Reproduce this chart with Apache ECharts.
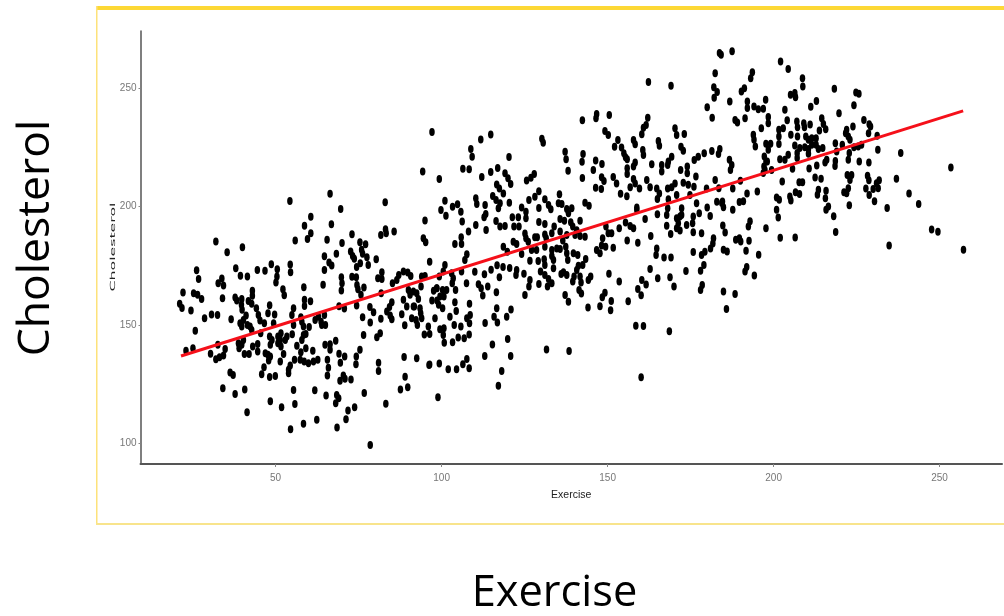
<!DOCTYPE html>
<html>
<head>
<meta charset="utf-8">
<style>html,body{margin:0;padding:0;background:#fff}#c{width:1004px;height:616px}</style>
<script src="https://cdn.jsdelivr.net/npm/echarts@6/dist/echarts.min.js"></script>
</head>
<body>
<div id="c"></div>
<script>
const xTicks = [50, 100, 150, 200, 250];
const yTicks = [100, 150, 200, 250];
const fitLine = [[21.5, 136.9], [257.1, 240.3]];
const pointsLow = [
[54.3,202.3],[66.4,205.4],[69.6,198.9],[83,201.8],[60.6,195.6],[58.7,191.9],[66.8,192.5],[83.1,190.4],
[55.9,185.6],[60.6,188.7],[59.6,186.3],[65.5,185.9],[70,184.6],[73,188.3],[81.7,188],[83.3,188.7],[85.7,189.4],[94.5,186.6],[95.2,184.9],[32,185.2],[35.4,180.7],[40,182.8],[75.4,184.9],[77.1,184],[75.9,181.7],[76.2,180],[72.6,181],[73.2,179.1],[73.7,177.9],[77.5,178.6],[80.3,177.7],[64.7,179],[68.3,180],[64.7,173.2],[66.1,176.3],[66.9,175.1],[75.5,176],[74.4,174.4],[77.9,175.3],[96.4,176.7],[48.7,175.6],[54.4,175.5],[54.5,172.2],[50.5,173.5],[44.5,173.2],[46.8,172.9],[38,173.9],[39.4,170.8],[41.5,170.4],[26.2,173.1],[26.8,169.4],[33.8,169.6],[32.7,167.6],[34.3,166.6],[50.4,170.4],[50.1,167.9],[64.3,167],[58.5,165.9],[52.2,165.1],[52.6,162.5],[43,164.4],[43,162.3],[22.1,163.7],[25.3,163.4],[26.5,162.7],[27.7,161],[34,161.3],[37.8,161.6],[38.3,160.3],[39.8,161],[41.8,160.1],[42.8,158.9],[39.7,158.5],[44.2,157.1],[39.9,156.4],[48.2,158.3],[21.1,159],[21.8,157.2],[24.5,156.1],[30.7,154.4],[32.5,154.2],[28.6,152.8],[36.6,152.4],[41.1,154],[44.8,154.2],[47.7,154.9],[49.7,154.4],[55.4,157],[54.9,154.2],[58.7,160.6],[58.7,158],[60.5,160],[69.1,157.9],[70.7,156.9],[69.8,170.1],[70,167.6],[69.8,164.5],[73,170.3],[74.3,170.1],[74.5,166.9],[74.8,165.1],[76.6,165.8],[75.7,162.7],[74.4,158.2],[78.4,157.6],[79.5,155.4],[76.2,153.3],[78.5,151],[81.7,152.6],[84.3,157.6],[85,159.6],[83.5,155.7],[84.5,154],[85,152.4],[88,154.5],[88.5,160.6],[89.5,157.8],[91.8,157.8],[88.9,149.9],[82,172.2],[80.8,169.7],[82,169.4],[81.8,163.4],[85.2,167.6],[86.5,169],[87.1,171.1],[88.5,172.5],[89.8,172.1],[90.7,170.7],[94,170.4],[95,170.7],[93.8,166.2],[90,164.8],[91.5,164.1],[92.5,163.4],[90.5,162.7],[93,160.9],[91.5,157.8],[93.5,157.1],[93.7,154.9],[91,152.8],[92.3,152.1],[94,152.8],[92.7,150],[98,152.8],[96,149.3],[94.8,146],[96.4,146.2],[97.6,164.4],[98.6,165.5],[97.1,160.3],[98.6,160.3],[99.1,158.5],[99.3,170.4],
[25.8,147.6],[39.3,150.7],[39.8,149.3],[41.5,150],[42.8,147.9],[45.3,151.9],[46.6,150.7],[45.5,146.5],[49.4,150.7],[55.4,150],[57.9,151.4],[57.6,153.3],[58.4,149.3],[60.1,149.1],[58.4,145.8],[59.1,146.2],[57.9,143.7],[61.9,152.1],[62.9,153.5],[63.7,151.4],[64.7,154.2],[65,150],[63.9,150],[55,146.1],[51.6,146.5],[50.7,145.1],[53.4,145.1],[48.2,145.1],[48.9,143.7],[51.4,143.7],[52.9,143.7],[50.7,142.3],[48.4,141.6],[51.6,140.9],[40.3,143.7],[38.8,142.3],[39.8,141.6],[39,140.2],[43.1,140.9],[44.6,142],[44.6,138.8],[40.6,137.7],[42,137.7],[32.6,141.6],[34.8,139.9],[23,139.1],[25.1,140.2],[30.4,137.9],[34.3,137.1],[33.1,136.4],[32,135.5],[46.9,138.1],[47.7,137.4],[48.4,136.7],[47.9,135],[52.4,137.7],[51.4,134.6],[56.4,141.2],[59.1,140.2],[57.6,138.5],[61.2,139.1],[55.7,135.3],[57.4,135.3],[58.6,134.6],[59.9,133.9],[61.4,134.6],[62.7,135.3],[54.4,132.9],[53.9,131.1],[53.9,129.6],[46.5,132.2],[45.8,129.2],[48.2,128],[49.9,128.5],[36.3,129.9],[37.2,128.9],[64.9,141.6],[66.4,141.9],[68.1,143.3],[66.4,139.5],[69.1,137.9],[70.8,136.7],[69.5,134.1],[65.6,135.3],[65.9,132],[65.6,128.7],[74.3,136.7],[74.2,133.4],[75.4,139.5],[76.5,145.8],[80.5,144.8],[81.5,146.5],[70.4,128.7],[69.4,126.5],[70.9,127.3],[72.7,127],[81,134.1],[81,130.6],[88.7,136.5],[92.5,136],[96.4,133.3],[99.3,133.7],[89,128.2],[89.8,123.7],[87.6,122.8],[98.9,119.5],[83.2,116.8],[76.7,121.3],[34.1,123.3],[37.8,120.9],[40.7,122.8],[55.4,122.6],[61.8,122.5],[65.2,120.2],[68.4,120.5],[69,119.1],[68.1,117],[48.4,117.8],[51.8,115.3],[55.8,116.7],[41.4,113.2],[73.8,115.3],[71.8,113.9],[71.2,110.2],[62.4,110],[58.4,108.3],[54.5,106],[68.5,106.7],[78.5,99.4],
[40.3,152.1],[42.3,149.3]
];
const pointsMid = [
[97.1,231.4],[94.3,214.7],[99.3,211.6],[108.8,224.2],[109.2,221],[111.8,228.2],[114.8,230.3],[106.4,215.9],[108.3,215.7],[112.1,212.4],[114.8,214.5],[116.9,216.2],[120.3,220.9],[130.2,228.6],[130.6,226.9],[119.1,214],[120,211.9],[120.8,209.5],[125.6,210.9],[126.9,212.1],[127.9,213.7],[116.6,209.3],[117.4,207.6],[118.6,205.5],[129.3,206.4],[128.1,204.1],[126.3,202.7],[101,202.4],[99.8,198.5],[101.3,196.1],[103.3,199.9],[104.8,200.9],[105.8,197.8],[106.2,193.6],[95,194.1],[110.3,203.4],[110.6,201],[113.1,200.6],[113.3,196.8],[112.8,195.4],[115.4,204.4],[116.4,202.7],[117.6,201.3],[117.1,199.2],[120.4,201.6],[116.4,193.9],[121.3,195.4],[123.1,195.4],[124.1,199.6],[125.4,197.8],[125.4,195],[129.3,199.3],[131.1,203],[132.2,200.6],[132.9,198.8],[135.2,201.3],[136.2,201],[135.5,205.1],[129.3,193.4],[131.1,192.6],[135.7,194.7],[137,194],[137.7,198.9],[139.2,199.2],[138.2,197.1],[138.9,193.3],[141.7,194],[139.5,191.5],[140.7,190],[143.2,201.6],[144.4,200.3],[110.3,192.2],[113.4,190.1],[108.1,189.4],[117.6,191.5],[119.1,191.7],[121.8,191.5],[123.3,191.5],[133.9,191.5],
[125.1,188.6],[125.4,186.6],[128.1,187],[128.8,187],[131.1,188.2],[131.5,186.6],[133.2,188.7],[135.7,189.4],[137.7,188],[136.5,185.6],[140.2,188],[141.7,187.5],[143.2,187.2],[126.1,185.1],[131.1,183],[121.6,185.1],[122.6,184.2],[118.6,183],[119.8,180.9],[124.1,179.9],[127.1,181.6],[128.6,181.6],[133.2,181.6],[134.7,182.3],[135.7,182],[137.4,183],[137.7,180.2],[139.7,180.2],[141,179.5],[126.6,177.1],[129.1,177],[130.9,177.7],[133.2,179.1],[133.7,177.4],[138,177.4],[131.1,175.3],[133.7,173.9],[129.8,172.5],[131.1,171.1],[141.2,175],[142.5,175.3],[143.4,177.8],[140.7,173.2],[136.7,172.2],[136,171.5],[137.7,171.1],[139.9,170.4],[141.7,170.4],[139.5,168.3],[142,167.9],[144.2,169],[144.9,170.4],[132.2,169.4],[133.2,167.6],[129.3,167.3],[126.6,169],[126.3,166.2],[131.9,166.2],[125.1,162.6],[141.4,164.8],[142.1,163.3],[137.2,162.6],[138.2,159.8],
[116.7,175.2],[118.5,174.5],[120.5,174],[122.6,173.2],[122.4,171.1],[124.8,171.6],[114.9,173.3],[110,172.4],[112.9,171.4],[117.4,170.1],[107.5,167.6],[111.1,167.2],[113.9,166.2],[111.9,165.5],[112.4,162.4],[116.5,163.8],
[104,184.2],[105.9,187],[106,184.2],[107,177.4],[107.6,179.8],[106,172.5],[101,175.3],[100.5,172.5],[103,171.8],[103.5,169.7],[103.2,167.6],[104.2,164.8],[101.5,164.8],[100.3,164.8],[98.5,165.5],[100.7,162],[99.5,162],[104,159.6],[108.4,159],[100.3,157],[104.4,155.9],[102.5,153.5],[108.6,154.2],[107.6,152.8],[103.8,150],[105.8,149.3],[108.4,150.7],[113.1,150.8],[116.6,157],[120.9,156.5],[119.6,153.5],[115.8,153.5],[116.8,151],[99.5,148.2],[100.7,148.6],[100.5,145.8],[100.8,142.5],[103.3,142.7],[105,144.7],[106.8,144.4],[108.3,146],[119.9,144.1],[115.3,141.8],[120.8,136.9],[113,136.9],[107.6,135.6],[106.4,133.4],[108.3,131.7],[104.5,131.3],[102,131.3],[96.2,133.1],[118.1,130.6],[117.1,124.4]
];
const pointsHigh = [
[162.3,252.5],[169.1,250.9],
[142.4,236.3],[146.7,239],[146.5,237.2],[150.5,238.6],[149.2,231.8],[150.2,230.1],[137.2,223.1],[137.5,219.9],[138.1,215],[142.6,222.1],[142.3,218.8],[142.4,212],[146.4,219.4],[148.3,217.9],[145.7,215.4],[148.2,212.3],[148.9,210.7],[146.4,207.9],[148.1,207.4],[151.7,212.4],[152.7,209.7],[153.9,205.4],[155.8,204.3],[152.1,225.2],[153.1,228],[154.2,224.9],[154.9,222.4],[155.4,220.7],[155.9,219.9],[157.8,228],[158.3,226.2],[160.6,223.8],[160.8,221.7],[158.3,218.5],[157.8,216.8],[155.9,216.1],[155.9,213.7],[157.8,211.6],[156.8,208.1],[158.3,209.7],[159.6,207.6],[161.8,211.2],[163.3,217.8],[160.3,230.4],[160.8,233.2],[161.6,234.4],[162.1,237.4],[165.3,227.6],[165.6,225.6],[166.3,217.5],[166.3,214.7],[168.3,218.9],[169.3,221],[168.1,217.5],[172.1,225.2],[172.8,223.5],[170.3,233],[170.8,230.1],[173.1,230.6],[172,215.4],[174,216.8],[174,214],[176.6,212.6],[176.1,219.6],[177.3,221],[179.1,222.4],[181.4,223.4],[183.4,222.1],[180,241.8],[181.5,237.4],[182.4,211.2],[162.8,208.1],[164.8,207.6],[165.6,205.5],[165,203.1],[168.1,207.6],[169.3,208.1],[170.3,209.7],[172.8,210],[174.3,209.1],[176,208.3],[170.8,204.8],[168.3,203],[174.8,204.8],[176.8,201.3],[179.8,207.6],[182.9,202],[180,199.5],[180.9,196],[177.6,197.1],[175.8,195.7],[172.3,199.2],[172.3,196.4],[168.1,199.2],[167.8,196.4],[165,196.7],[158.8,199.6],[158.8,198.5],[161.3,194.7],[170.8,195],[171.8,195.7],[171.3,192.9],[173.8,192.2],[175.6,192.9],[167.8,191.9],[170.8,190.8],[171.8,189.8],[169,188.4],[175.8,189.1],[178.3,188.7],[155.4,193.2],[156.8,191.7],[157.8,190.8],[153.5,190.8],[149.5,191.5],[150.2,188.7],[151.2,188.7],[163,187.5],[155.9,185.6],[159.1,184.7],[148.5,186.6],[148.2,183.5],[149.4,183],[151.7,182.6],[146.7,181.6],[147.7,180.2],[164.8,182.3],[164.6,179.5],[167,178.5],[169.1,178.5],[175.8,180.8],[181.9,186.6],[181.7,184.4],[181,182.3],[179.3,180.9],[178.3,179.5],[179,175.3],[178,172.9],[162.8,173.6],[173.6,172.8],[165.1,169.7],[168.8,170.1],[170,166.2],[178.5,166.9],[178,164.8],[150.4,171.6],[153.5,168.3],[160.3,169],[161.6,167.1],[159.1,165.2],[160.1,162.5],[156.2,160],[149.2,163.6],[148.4,161.7],[151.1,160.1],[147.7,157.9],[150.9,156.2],[144.1,157.4],[158.5,149.7],[160.8,149.6],[168.6,147.3],[160.1,127.9],[138.4,139],[131.6,139.6],
[183.7,264.7],[184.2,264],[187.5,265.5],[182.4,256.2],[182,250.3],[183,248.3],[182.1,245.8],[186.8,244.3],[193.6,256.6],[193.1,254.1],[191.2,249.9],[190.3,248.5],[192.1,244.3],[192.1,241.5],[194.1,242.2],[195.4,241],[196.9,241.2],[197.6,245],[188.4,236.5],[189.1,235.4],[191.4,237.2],[196.3,233],[198.4,237.7],[198.4,235.1],[202.1,261.1],[204.4,258],[208.7,254.1],[208.8,250.6],[205.1,247.1],[206.4,247.8],[206.6,246.1],[212.9,244.5],[211.2,242],[218.3,249.6],[203.4,240.8],[204.1,236.3],[219.7,239.3],[224.8,248.1],[225.7,247.5],[224.2,242.7],[227.2,236.5],[228.8,234.7],[229.2,233.7],[228.6,230.9],[214.5,237.2],[215,234.8],[215.7,232.6],[213.8,232],[207,235.8],[207.2,233.4],[209.1,235.1],[209.3,233.4],[211,234.6],[201.6,232.3],[202.9,233],[205.2,230.2],[207.2,229.5],[209.7,229.5],[201.6,229.5],[201.6,226.3],[193.9,230.2],[194.1,228.1],[194.5,225.3],[197.7,226.4],[199.1,226.4],[198.4,223.9],[206.4,225.7],[210.5,228.1],[211.5,228.8],[212.8,228.8],[211.5,226],[212.8,226],[207.9,224.6],[209.4,225],[210.5,224.2],[213.5,224.2],[214.8,224.6],[207.1,222.5],[210.5,222.2],[204.4,221.8],[203.4,219.7],[201.9,219.9],[207.1,220.4],[218.6,226.7],[219,223.2],[220.7,226],[222,232.3],[221.7,230.9],[222.5,229.5],[223,228.1],[223.9,233.7],[224.2,225],[225.5,225.3],[226.5,226],[231.2,229.8],[231.4,223.9],[238.3,222.5],[222.8,222.5],[222.5,219.7],[225.8,219],[228.7,218.5],[216,219.7],[215.5,218.5],[218.6,219.2],[218.5,217.1],[213,217.3],[210.7,216],[205.7,215.9],[197.2,221.1],[197.7,218.9],[197.1,216.8],[198.1,218.9],[197.4,215.4],[199.4,215.4],[196.9,214.1],[186.7,219.7],[187.4,217.5],[187,215.4],[183.8,224.2],[212.5,212.2],[214.3,211.7],[222.2,213.3],[223.5,213.3],[223,211.2],[228.3,212.9],[228.7,211],[231.8,211],[231,209.8],[231.5,207.7],[230,207.3],[227.8,207.6],[228.8,204.8],[230.4,202.2],[237,211.7],[240.8,205.5],[243.7,201],[234.2,199.3],[253.4,216.4],[247.6,190.3],[249.5,189.3],[257.2,181.7],[234.8,183.5],[218.7,189.2],[218.1,195.9],[216.5,200],[215.8,198.6],[222.8,200.5],[215.6,203.5],[215.8,206.6],[213.5,207],[213.2,204.9],[222.5,207.7],[221.2,206],[222,205.6],[207.7,210.2],[208.7,210.2],[202.6,210.5],[206.6,206],[207.8,205.2],[204.9,204.2],[205.2,202.5],[200.9,203.8],[201.7,202.8],[200.9,198.6],[201.4,195.3],[197.7,190.8],[202,186.8],[206.5,186.9],[195.1,206.3],[192,205.5],[190.9,202.2],[189.7,201.9],[190,210.8],[187.7,207.6],[187.7,198.6],[192.9,193.7],[192.4,191.5],[184.7,192],[185.4,189],[188.6,185.9],[189.7,186.6],[190.1,185.2],[192.6,185.5],[191.7,181.3],[195.5,179.6],[184.9,181.7],[186,181],[191.9,174.4],[191.4,172.6],[194.2,170.9],[184.9,164.1],[188.4,163.1],[185.8,156.7],[184.6,202.1],[184.4,201.4],[184.9,199.7],[183.5,207.7]
];
const smallFont = '"Liberation Sans",sans-serif';
const chart = echarts.init(document.getElementById('c'), null, {renderer:'canvas'});
chart.setOption({
  animation: false,
  backgroundColor: '#fff',
  grid: {left: 140.5, top: 31, right: 2, bottom: 152, containLabel: false},
  xAxis: {
    type: 'value', min: 9.3, max: 268.8,
    splitLine: {show: false},
    axisLine: {lineStyle: {color: '#555', width: 2}},
    axisTick: {length: 3, lineStyle: {color: '#888', width: 1}, customValues: xTicks},
    axisLabel: {customValues: xTicks, color: '#777', fontSize: 10, fontFamily: smallFont, margin: 9},
    name: 'Exercise', nameLocation: 'middle', nameGap: 26,
    nameTextStyle: {color: '#222', fontSize: 10.5, fontFamily: smallFont}
  },
  yAxis: {
    type: 'value', min: 91.35, max: 274,
    splitLine: {show: false},
    axisLine: {lineStyle: {color: '#555', width: 1.5}},
    axisTick: {length: 2, lineStyle: {color: '#888', width: 1}, customValues: yTicks},
    axisLabel: {customValues: yTicks, color: '#777', fontSize: 10, fontFamily: smallFont, margin: 4}
  },
  series: [
    {type:'scatter', data: pointsLow.concat(pointsMid, pointsHigh), symbol:'circle', symbolSize:[5.5,8], itemStyle:{color:'#000', opacity:1}, silent:true, z:2},
    {type:'line', data: fitLine, showSymbol:false, lineStyle:{color:'#f5101a', width:3}, silent:true, z:3}
  ],
  graphic: [
    {type:'rect', shape:{x:96,y:6,width:910,height:4}, style:{fill:'#fdd835'}, silent:true},
    {type:'rect', shape:{x:96,y:6,width:1.5,height:519}, style:{fill:'#fde27a'}, silent:true},
    {type:'rect', shape:{x:96,y:523,width:910,height:2}, style:{fill:'#f8e48c'}, silent:true},
    {type:'text', x:113.5, y:247, rotation:Math.PI/2, scaleX:2.25, scaleY:1, style:{text:'Cholesterol', fill:'#222', font:'7px "DejaVu Sans"', align:'center', verticalAlign:'middle'}, silent:true},
    {type:'text', x:36, y:238, rotation:Math.PI/2, style:{text:'Cholesterol', fill:'#000', font:'44.5px "Open Sans"', align:'center', verticalAlign:'middle'}, silent:true},
    {type:'text', x:554.5, y:594, style:{text:'Exercise', fill:'#000', font:'43.4px "Open Sans"', align:'center', verticalAlign:'middle'}, silent:true}
  ]
});
</script>
</body>
</html>
